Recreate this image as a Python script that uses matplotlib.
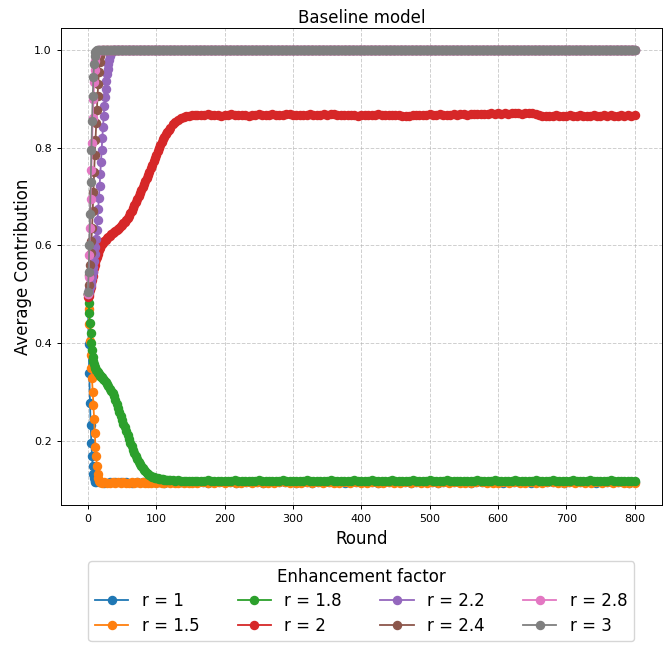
import matplotlib
matplotlib.use("Agg")
import matplotlib.pyplot as plt

# ─── rounds (x values) ──────────────────────────────────────────────────────
tail_rounds = list(range(160, 801, 8))          # late, flat part (hidden runs)
tail_rounds_fine = list(range(160, 801, 5))     # late, flat part (visible runs)

blue_x   = list(range(0, 13)) + list(range(16, 160, 8)) + tail_rounds
orange_x = list(range(0, 19)) + list(range(20, 160, 4)) + tail_rounds
green_x  = list(range(0, 20)) + list(range(20, 120, 2)) + list(range(120, 160, 4)) + tail_rounds_fine
red_x    = list(range(0, 20)) + list(range(20, 120, 2)) + list(range(120, 160, 4)) + tail_rounds_fine
purple_x = list(range(0, 38)) + list(range(38, 801, 2))
brown_x  = list(range(0, 22)) + list(range(22, 801, 2))
pink_x   = list(range(0, 16)) + list(range(16, 801, 2))
gray_x   = list(range(0, 14)) + list(range(14, 801, 2))

# ─── average contribution ───────────────────────────────────────────────────
blue_early = [0.500, 0.398, 0.338, 0.278, 0.233, 0.196, 0.168, 0.148, 0.133, 0.123, 0.118, 0.116, 0.115,
              0.115, 0.114, 0.115, 0.115, 0.116, 0.115, 0.114, 0.115, 0.115, 0.115, 0.116, 0.115, 0.114,
              0.115, 0.115, 0.115, 0.116, 0.115]
blue_tail = [0.115, 0.115, 0.114, 0.115, 0.116, 0.115, 0.115, 0.114, 0.115, 0.115,
             0.116, 0.115, 0.114, 0.115, 0.115, 0.115, 0.116, 0.115, 0.114, 0.115,
             0.115, 0.114, 0.115, 0.116, 0.115, 0.115, 0.115, 0.114, 0.115, 0.115,
             0.116, 0.115, 0.115, 0.114, 0.115, 0.115, 0.116, 0.115, 0.115, 0.114,
             0.115, 0.115, 0.116, 0.115, 0.114, 0.115, 0.115, 0.115, 0.116, 0.115,
             0.114, 0.115, 0.115, 0.116, 0.115, 0.115, 0.114, 0.115, 0.115, 0.116,
             0.115, 0.114, 0.115, 0.115, 0.115, 0.116, 0.115, 0.114, 0.115, 0.115,
             0.115, 0.116, 0.115, 0.114, 0.115, 0.115, 0.116, 0.115, 0.115, 0.114,
             0.115]

orange_early = [0.500, 0.470, 0.440, 0.405, 0.375, 0.350, 0.329, 0.301, 0.274, 0.245,
                0.217, 0.188, 0.168, 0.148, 0.133, 0.124, 0.118, 0.116, 0.115,
                0.114, 0.115, 0.114, 0.113, 0.115, 0.114, 0.115, 0.114, 0.115, 0.113,
                0.114, 0.115, 0.114, 0.116, 0.114, 0.115, 0.114, 0.113, 0.114, 0.115,
                0.114, 0.115, 0.113, 0.114, 0.116, 0.114, 0.115, 0.114, 0.113, 0.115,
                0.114, 0.115, 0.114, 0.114, 0.115]
orange_tail = [0.114, 0.115, 0.113, 0.114, 0.115, 0.114, 0.116, 0.114, 0.113, 0.115,
               0.114, 0.115, 0.114, 0.113, 0.114, 0.116, 0.115, 0.114, 0.114, 0.113,
               0.115, 0.114, 0.116, 0.114, 0.115, 0.113, 0.114, 0.115, 0.114, 0.116,
               0.114, 0.113, 0.115, 0.114, 0.114, 0.115, 0.113, 0.114, 0.116, 0.114,
               0.115, 0.114, 0.113, 0.115, 0.114, 0.116, 0.114, 0.115, 0.113, 0.114,
               0.114, 0.116, 0.115, 0.114, 0.113, 0.114, 0.115, 0.114, 0.116, 0.114,
               0.113, 0.115, 0.114, 0.114, 0.116, 0.115, 0.113, 0.114, 0.115, 0.114,
               0.116, 0.114, 0.113, 0.115, 0.114, 0.115, 0.114, 0.116, 0.114, 0.113,
               0.114]

green_early = [0.500, 0.483, 0.462, 0.442, 0.421, 0.401, 0.385, 0.372, 0.363, 0.357,
               0.352, 0.349, 0.346, 0.343, 0.341, 0.339, 0.337, 0.335, 0.333, 0.331,
               0.330, 0.327, 0.324, 0.320, 0.316, 0.312, 0.307, 0.302, 0.297, 0.291,
               0.284, 0.276, 0.268, 0.260, 0.251, 0.243, 0.235, 0.228, 0.220, 0.212,
               0.204, 0.196, 0.189, 0.182, 0.175, 0.168, 0.162, 0.157, 0.152, 0.148,
               0.144, 0.141, 0.138, 0.135, 0.133, 0.131, 0.129, 0.127, 0.126, 0.125,
               0.124, 0.123, 0.122, 0.122, 0.121, 0.121, 0.120, 0.120, 0.120, 0.119,
               0.119, 0.119, 0.118, 0.119, 0.118, 0.118, 0.117, 0.118, 0.118, 0.118]
green_tail = [0.118, 0.117, 0.118, 0.119, 0.117, 0.118, 0.117, 0.118, 0.118, 0.117,
              0.118, 0.119, 0.118, 0.117, 0.118, 0.117, 0.118, 0.118, 0.119, 0.117,
              0.118, 0.117, 0.118, 0.118, 0.117, 0.119, 0.118, 0.117, 0.118, 0.118,
              0.117, 0.118, 0.119, 0.118, 0.117, 0.118, 0.118, 0.117, 0.118, 0.119,
              0.118, 0.117, 0.118, 0.118, 0.117, 0.118, 0.119, 0.118, 0.117, 0.118,
              0.118, 0.119, 0.117, 0.118, 0.118, 0.117, 0.118, 0.119, 0.118, 0.117,
              0.118, 0.118, 0.117, 0.119, 0.118, 0.117, 0.118, 0.118, 0.119, 0.117,
              0.118, 0.117, 0.118, 0.119, 0.118, 0.117, 0.118, 0.118, 0.117, 0.118,
              0.118, 0.117, 0.119, 0.118, 0.117, 0.118, 0.118, 0.119, 0.117, 0.118,
              0.117, 0.118, 0.118, 0.119, 0.118, 0.117, 0.118, 0.117, 0.118, 0.119,
              0.118, 0.118, 0.117, 0.118, 0.119, 0.118, 0.117, 0.118, 0.118, 0.117,
              0.119, 0.118, 0.117, 0.118, 0.118, 0.119, 0.117, 0.118, 0.118, 0.117,
              0.118, 0.119, 0.118, 0.117, 0.118, 0.118, 0.117, 0.118, 0.118]

red_early = [0.495, 0.497, 0.500, 0.508, 0.515, 0.523, 0.530, 0.538, 0.545, 0.553,
             0.560, 0.566, 0.572, 0.577, 0.582, 0.586, 0.590, 0.594, 0.597, 0.600,
             0.602, 0.606, 0.609, 0.612, 0.615, 0.618, 0.620, 0.623, 0.625, 0.627,
             0.629, 0.632, 0.634, 0.636, 0.639, 0.642, 0.645, 0.648, 0.652, 0.656,
             0.661, 0.666, 0.671, 0.677, 0.683, 0.689, 0.696, 0.702, 0.708, 0.714,
             0.720, 0.726, 0.732, 0.738, 0.744, 0.751, 0.758, 0.765, 0.772, 0.779,
             0.786, 0.793, 0.800, 0.806, 0.812, 0.818, 0.823, 0.828, 0.833, 0.837,
             0.841, 0.848, 0.853, 0.857, 0.861, 0.863, 0.865, 0.866, 0.867, 0.868]
red_tail = [0.868, 0.867, 0.868, 0.869, 0.868, 0.867, 0.868, 0.866, 0.867, 0.868,
            0.869, 0.868, 0.867, 0.868, 0.868, 0.866, 0.867, 0.868, 0.869, 0.868,
            0.867, 0.868, 0.869, 0.868, 0.867, 0.868, 0.869, 0.870, 0.868, 0.867,
            0.868, 0.867, 0.868, 0.869, 0.868, 0.867, 0.868, 0.869, 0.868, 0.869,
            0.870, 0.868, 0.867, 0.868, 0.867, 0.868, 0.867, 0.866, 0.867, 0.868,
            0.867, 0.867, 0.868, 0.869, 0.868, 0.867, 0.868, 0.868, 0.867, 0.868,
            0.866, 0.865, 0.866, 0.867, 0.868, 0.867, 0.868, 0.868, 0.869, 0.868,
            0.868, 0.869, 0.868, 0.867, 0.868, 0.869, 0.868, 0.869, 0.869, 0.868,
            0.869, 0.870, 0.869, 0.870, 0.869, 0.870, 0.871, 0.870, 0.871, 0.870,
            0.871, 0.870, 0.871, 0.872, 0.871, 0.870, 0.871, 0.872, 0.871, 0.870,
            0.867, 0.866, 0.865, 0.866, 0.866, 0.867, 0.866, 0.865, 0.866, 0.867,
            0.866, 0.866, 0.867, 0.866, 0.865, 0.866, 0.867, 0.866, 0.866, 0.867,
            0.866, 0.867, 0.866, 0.866, 0.867, 0.866, 0.867, 0.866, 0.867]

purple_early = [0.500, 0.505, 0.510, 0.515, 0.520, 0.527, 0.535, 0.545, 0.556, 0.568,
                0.582, 0.597, 0.613, 0.632, 0.652, 0.674, 0.697, 0.721, 0.746, 0.771,
                0.796, 0.820, 0.843, 0.865, 0.885, 0.904, 0.921, 0.936, 0.950, 0.962,
                0.972, 0.980, 0.987, 0.992, 0.995, 0.997, 0.999, 1.000]
brown_early = [0.500, 0.520, 0.540, 0.560, 0.585, 0.610, 0.635, 0.670, 0.710, 0.750, 0.785,
               0.816, 0.850, 0.878, 0.905, 0.930, 0.955, 0.975, 0.988, 0.995, 0.999, 1.000]
pink_early = [0.500, 0.535, 0.580, 0.635, 0.695, 0.755, 0.810, 0.860, 0.900, 0.935,
              0.960, 0.978, 0.990, 0.996, 0.999, 1.000]
gray_early = [0.505, 0.545, 0.600, 0.665, 0.730, 0.795, 0.855, 0.905, 0.945, 0.972,
              0.988, 0.996, 0.999, 1.000]
full_level = 1.0   # everyone contributes: runs with r >= 2.2 sit here

labels = ['r = 1', 'r = 1.5', 'r = 1.8', 'r = 2', 'r = 2.2', 'r = 2.4', 'r = 2.8', 'r = 3']

series = [
    (blue_x,   blue_early + blue_tail),
    (orange_x, orange_early + orange_tail),
    (green_x,  green_early + green_tail),
    (red_x,    red_early + red_tail),
    (purple_x, purple_early + [full_level] * (len(purple_x) - len(purple_early))),
    (brown_x,  brown_early + [full_level] * (len(brown_x) - len(brown_early))),
    (pink_x,   pink_early + [full_level] * (len(pink_x) - len(pink_early))),
    (gray_x,   gray_early + [full_level] * (len(gray_x) - len(gray_early))),
]

# ─── plot ───────────────────────────────────────────────────────────────────
fig = plt.figure(figsize=(6.66, 6.45), dpi=100)
ax = fig.add_axes([0.091, 0.217, 0.903, 0.739])

for i, ((x, y), lab) in enumerate(zip(series, labels)):
    ax.plot(x, y, marker='o', markersize=5.8, linewidth=1.3, color=f'C{i}', label=lab)

ax.set_title('Baseline model', fontsize=12, pad=4)
ax.set_xlabel('Round', fontsize=12)
ax.set_ylabel('Average Contribution', fontsize=12, labelpad=1)
ax.tick_params(labelsize=8, length=3, width=0.7)
for sp in ax.spines.values():
    sp.set_linewidth(0.7)
ax.grid(True, linestyle='--', alpha=0.6, linewidth=0.7)

ax.legend(loc='upper center', bbox_to_anchor=(0.5, -0.118), ncol=4,
          title='Enhancement factor', fontsize=12, title_fontsize=12,
          columnspacing=2.3, labelspacing=0.38, borderaxespad=0.0)

fig.savefig('out.png', dpi=100)
